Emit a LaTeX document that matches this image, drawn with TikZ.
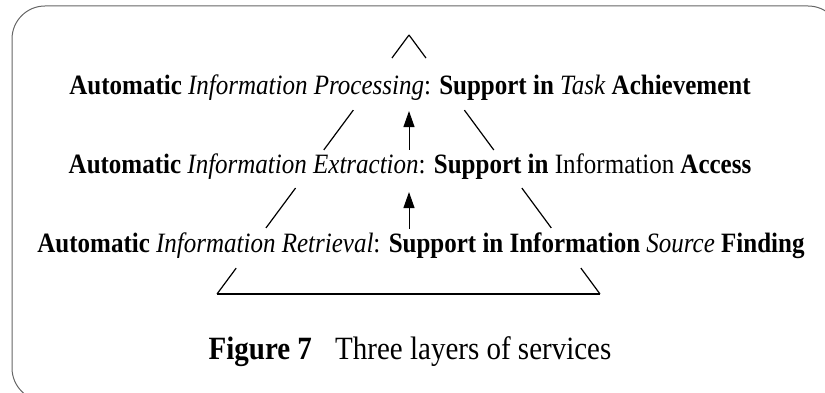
\documentclass[tikz,border=0pt]{standalone}
\usepackage{fontspec}
\setmainfont{Liberation Serif}
\usetikzlibrary{arrows.meta,positioning,calc}

\newcommand{\tall}[1]{\scalebox{1}[1.12]{#1}}

\begin{document}
\begin{tikzpicture}[x=1pt, y=-1pt, >={Triangle[width=11pt,length=16pt]}, node distance=79pt,
    layer/.style={inner xsep=2pt, inner ysep=2pt, font=\fontsize{25}{30}\selectfont},
    side/.style={line width=1.2pt},
    frame/.style={draw=black!60, line width=1pt, rounded corners=33pt}]
    \useasboundingbox (0,0) rectangle (825,393);

    % Frame
    \draw [frame] (12,6) rectangle (841,401);

    % Pyramid {top, bl, br}, sides broken where the texts stand
    \coordinate (top) at (409,35);
    \coordinate (bl)  at (217,294);
    \coordinate (br)  at (600,294);
    \foreach \a/\b in {0/0.089, 0.29/0.444, 0.591/0.745, 0.9/1} {
        \draw [side] ($(top)!\a!(bl)$) -- ($(top)!\b!(bl)$);
        \draw [side] ($(top)!\a!(br)$) -- ($(top)!\b!(br)$);
    }
    \draw [side] (bl) -- (br);

    % Nodes {l1, l2, l3, cap}
    \node [layer] (l1) at (410,88) {\tall{\textbf{Automatic} \textit{Information Processing}: \textbf{Support in} \textit{Task} \textbf{Achievement}}};
    \node [layer] (l2) [below of=l1] {\tall{\textbf{Automatic} \textit{Information Extraction}: \textbf{Support in} Information \textbf{Access}}};
    \node [layer] (l3) [below of=l2, xshift=11pt] {\tall{\textbf{Automatic} \textit{Information Retrieval}: \textbf{Support in Information} \textit{Source} \textbf{Finding}}};
    \node [font=\fontsize{29}{34}\selectfont] (cap) at (410,352) {\tall{\textbf{Figure 7}\hspace{0.8em}Three layers of services}};

    % Paths
    \path [->, line width=1pt, shorten <=2pt, shorten >=10pt] (l3.north -| top) edge (l2.south -| top);
    \path [->, line width=1pt, shorten <=2pt, shorten >=8pt] (l2.north -| top) edge (l1.south -| top);

\end{tikzpicture}
\end{document}
